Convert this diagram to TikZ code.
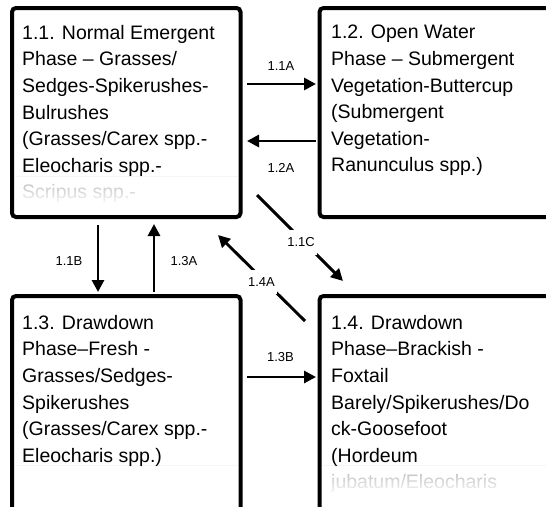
\documentclass[tikz,border=0pt]{standalone}
\usepackage{fontspec}
\setmainfont{Liberation Sans}
\usetikzlibrary{arrows.meta,fadings}
\tikzfading[name=fadedown, top color=transparent!30, bottom color=transparent!0]
\begin{document}
\begin{tikzpicture}[x=1pt,y=-1pt,
  box/.style={draw, line width=4pt, rounded corners=4pt, inner sep=0pt, outer sep=0pt, anchor=north west},
  txt/.style={anchor=north west, inner sep=0pt, align=left, font=\fontsize{19.5pt}{26.6pt}\selectfont},
  lab/.style={inner sep=0pt, font=\fontsize{13pt}{15pt}\selectfont},
  wlab/.style={lab, fill=white, inner xsep=2pt, inner ysep=8pt},
  arr/.style={line width=2.9pt, -{Triangle[length=12pt,width=12pt]}},
  band/.style={draw=black!4, line width=1pt}
]
\clip (0,0) rectangle (546,506);
\useasboundingbox (0,0) rectangle (546,506);
\fill[white] (0,0) rectangle (546,506);

% boxes
\node[box, minimum width=228.5pt, minimum height=209pt] (b11) at (12,8) {};
\node[box, minimum width=240pt, minimum height=209pt] (b12) at (319.5,8) {};
\node[box, minimum width=228.5pt, minimum height=240pt] (b13) at (12,296) {};
\node[box, minimum width=240pt, minimum height=240pt] (b14) at (319.5,296) {};

% faint bands where the fades begin
\draw[band] (15,176) -- (238,176);
\draw[band] (15,465) -- (238,465);
\draw[band] (322,465) -- (546,465);

% texts
\node[txt] (t11) at (22,25) {1.1. Normal Emergent\\Phase -- Grasses/\\Sedges-Spikerushes-\\Bulrushes\\(Grasses/Carex spp.-\\Eleocharis spp.-\\Scripus spp.-};
\node[txt] (t12) at (331,25) {1.2. Open Water\\Phase -- Submergent\\Vegetation-Buttercup\\(Submergent\\Vegetation-\\Ranunculus spp.)};
\node[txt] (t13) at (22,315) {1.3. Drawdown\\Phase--Fresh -\\Grasses/Sedges-\\Spikerushes\\(Grasses/Carex spp.-\\Eleocharis spp.)};
\node[txt] (t14) at (331,315) {1.4. Drawdown\\Phase--Brackish -\\Foxtail\\Barely/Spikerushes/Do\\ck-Goosefoot\\(Hordeum\\jubatum/Eleocharis};

% fades
\fill[white, path fading=fadedown] (16,177) rectangle (236,206);
\fill[white, path fading=fadedown] (323,467) rectangle (546,496);
\fill[white] (323,496) rectangle (546,506);

% connector end points
\coordinate (a1s) at (247,84);  \coordinate (a1e) at (316,84);
\coordinate (a2s) at (316,141); \coordinate (a2e) at (247,141);
\coordinate (a3s) at (247,377); \coordinate (a3e) at (316,377);
\coordinate (bBs) at (98,225);  \coordinate (bBe) at (98,292);
\coordinate (b3s) at (154,292); \coordinate (b3e) at (154,224);
\coordinate (cCs) at (257,195); \coordinate (cCe) at (343,281);
\coordinate (c4s) at (305,321); \coordinate (c4e) at (218,235);

% connectors
\draw[arr] (a1s) -- (a1e);
\draw[arr] (a2s) -- (a2e);
\draw[arr] (a3s) -- (a3e);
\draw[arr] (bBs) -- (bBe);
\draw[arr] (b3s) -- (b3e);
\draw[arr] (cCs) -- (cCe);
\draw[arr] (c4s) -- (c4e);

% labels
\node[lab] (l11A) at (281,66) {1.1A};
\node[lab] (l12A) at (281,167.5) {1.2A};
\node[lab] (l13B) at (280.5,357) {1.3B};
\node[lab] (l11B) at (69,261) {1.1B};
\node[lab] (l13A) at (184,261) {1.3A};
\node[wlab] (l11C) at (301,242.5) {1.1C};
\node[wlab] (l14A) at (261.5,282) {1.4A};
\end{tikzpicture}
\end{document}
